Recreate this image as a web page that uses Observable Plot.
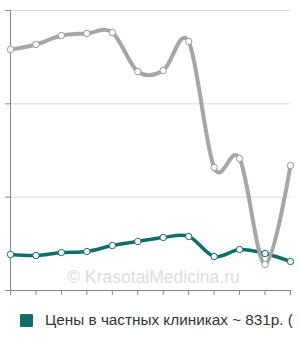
<!DOCTYPE html>
<html><head><meta charset="utf-8">
<script src="https://cdn.jsdelivr.net/npm/d3@7"></script>
<script src="https://cdn.jsdelivr.net/npm/@observablehq/plot@0.6"></script>
<style>
body{margin:0;background:#fff;font-family:"Liberation Sans",Arial,sans-serif;}
#wrap{width:300px;height:340px;overflow:hidden;position:relative;}
#legend{position:absolute;left:20px;top:311px;white-space:nowrap;font-size:15.3px;color:#333;display:flex;align-items:center;}
#legend .sw{width:13px;height:13px;background:#0f6e6a;margin-right:12px;border-radius:1px;}
</style></head><body>
<div id="wrap"><div id="chart"></div>
<div id="legend"><span class="sw"></span><span>Цены в частных клиниках ~ 831р. (</span></div></div>
<script>
const months = [0,1,2,3,4,5,6,7,8,9,10,11];
const grayValues = [2582,2636,2732,2754,2764,2346,2357,2668,1318,1414,279,1339];
const tealValues = [386,375,407,418,482,525,568,579,364,439,396,311];
const yTicks = [0,1000,2000,3000];
const watermark = "© KrasotaiMedicina.ru";

const gray = months.map((m,i)=>({x:m,y:grayValues[i]}));
const teal = months.map((m,i)=>({x:m,y:tealValues[i]}));

const chart = Plot.plot({
  width:300, height:300,
  marginTop:10, marginBottom:10, marginLeft:10, marginRight:10,
  x:{domain:[0,11], label:null},
  y:{domain:[0,3000], label:null},
  style:{background:"transparent"},
  marks:[
    Plot.gridY(yTicks.slice(1), {stroke:"#dcdcdc", strokeOpacity:1, strokeWidth:1}),
    Plot.axisY(yTicks, {tickSize:5, tickFormat:()=>"", stroke:"#888", label:null}),
    Plot.axisX(months, {tickSize:5, tickFormat:()=>"", stroke:"#888", label:null}),
    Plot.ruleX([0], {stroke:"#888"}),
    Plot.ruleY([0], {stroke:"#888"}),
    Plot.text([watermark], {frameAnchor:"bottom", dy:-8, dx:3, text:d=>d, fontSize:17.5, fill:"#dedede", fontFamily:"Liberation Sans, Arial"}),
    Plot.line(teal, {x:"x", y:"y", stroke:"#0f6e6a", strokeWidth:3.5, curve:"cardinal"}),
    Plot.line(gray, {x:"x", y:"y", stroke:"#a6a6a6", strokeWidth:4, curve:"cardinal"}),
    Plot.dot(teal, {x:"x", y:"y", r:3.2, fill:"#fff", stroke:"#0f6e6a", strokeWidth:1}),
    Plot.dot(gray, {x:"x", y:"y", r:3.2, fill:"#fff", stroke:"#999", strokeWidth:1})
  ]
});
document.getElementById("chart").appendChild(chart);
</script>
</body></html>
